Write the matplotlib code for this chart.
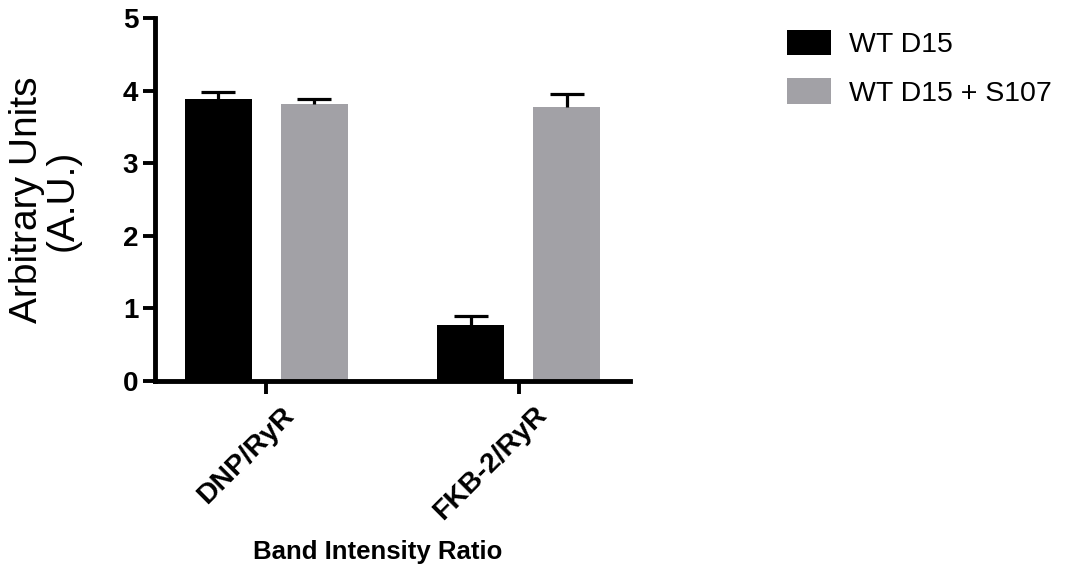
import matplotlib
matplotlib.use("Agg")
import matplotlib.pyplot as plt
import matplotlib.transforms as mtransforms
import numpy as np

categories = ["DNP/RyR", "FKB-2/RyR"]
series_names = ["WT D15", "WT D15 + S107"]
wt_d15 = [3.88, 0.77]
wt_d15_s107 = [3.815, 3.78]
err_wt_d15 = [0.095, 0.13]
err_wt_d15_s107 = [0.075, 0.18]
y_ticks = [0, 1, 2, 3, 4, 5]

colors = ["#000000", "#a2a1a6"]

plt.rcParams['font.family'] = ['Liberation Sans', 'DejaVu Sans']

fig = plt.figure(figsize=(10.67, 5.86), dpi=100)
ax = fig.add_axes([155/1067, 1-381/586, (630-155)/1067, (381-18)/586])

x = np.arange(len(categories))
w = 0.264
off = 0.19
for vals, errs, col, name, sgn in [(wt_d15, err_wt_d15, colors[0], series_names[0], -1),
                                    (wt_d15_s107, err_wt_d15_s107, colors[1], series_names[1], 1)]:
    ax.bar(x + sgn*off, vals, width=w, color=col, label=name, zorder=2)
    eb = ax.errorbar(x + sgn*off, vals, yerr=[np.zeros(len(vals)), errs], fmt='none',
                     ecolor='black', elinewidth=2.3, capsize=12, capthick=2.3, zorder=3)
    caps = eb[1]
    if len(caps) > 1:
        caps[0].set_visible(False)

ax.set_xlim(-0.44, 1.44)
ax.set_ylim(0, 5)
ax.set_yticks(y_ticks)
ax.set_yticklabels([str(t) for t in y_ticks], fontsize=20, fontweight='bold')
ax.set_xticks(x)
ax.set_xticklabels([])
base = mtransforms.blended_transform_factory(ax.transData, ax.transAxes)
shift = mtransforms.ScaledTranslation(15/100, -21/100, fig.dpi_scale_trans)
for xi, cat in zip(x, categories):
    ax.text(xi, 0, cat, transform=base + shift, fontsize=20.5, fontweight='bold',
            rotation=45, ha='right', va='top', rotation_mode='anchor', clip_on=False)
for s in ['top', 'right']:
    ax.spines[s].set_visible(False)
for s in ['left', 'bottom']:
    ax.spines[s].set_linewidth(3.5)
ax.tick_params(axis='both', direction='out', length=9, width=2.8, pad=3)

fig.text(45/1067, 1-200/586, "Arbitrary Units\n(A.U.)", rotation=90, fontsize=28,
         ha='center', va='center', multialignment='center', linespacing=1.0)
fig.text(378/1067, 1-552/586, "Band Intensity Ratio", fontsize=18.5, fontweight='bold',
         ha='center', va='center')

leg = fig.legend(loc='upper left', bbox_to_anchor=(787/1067, 1-30/586), frameon=False,
                 fontsize=20.5, handlelength=1.53, handleheight=1.0, handletextpad=0.66,
                 labelspacing=0.7, borderpad=0, borderaxespad=0)

fig.savefig("out.png", dpi=100)
